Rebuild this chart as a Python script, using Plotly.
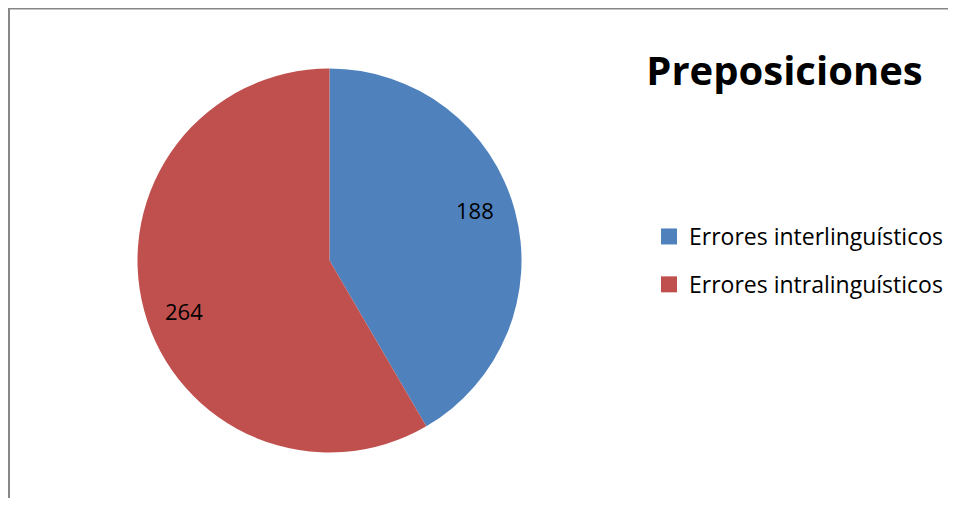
import math
import plotly.graph_objects as go

# ---- data ----
labels = ["Errores interlinguísticos", "Errores intralinguísticos"]
values = [188, 264]
colors = ["#4F81BD", "#C0504D"]
title_text = "Preposiciones"

# figure sized to fit inside the page's default 8px body margin
W, H = 940, 490
# pie geometry (pixels, figure coordinates)
cx, cy, R = 321.5, 252.5, 192
dom_x = [(cx - R) / W, (cx + R) / W]
dom_y = [1 - (cy + R) / H, 1 - (cy - R) / H]

fig = go.Figure()
fig.add_trace(go.Pie(
    labels=labels, values=values,
    marker=dict(colors=colors, line=dict(width=0)),
    sort=False, direction="clockwise", rotation=0,
    textinfo="none", hoverinfo="label+value",
    showlegend=False,
    domain=dict(x=dom_x, y=dom_y),
))

# legend entries (one per category)
for lab, col in zip(labels, colors):
    fig.add_trace(go.Scatter(
        x=[None], y=[None], mode="markers", name=lab,
        marker=dict(symbol="square", size=16, color=col),
        legendgroup=lab, showlegend=True,
    ))

# value labels placed from the data via slice mid-angles
total = sum(values)
cum = 0
label_r = 0.8 * R
angle_shift = -4
for v in values:
    mid = (cum + v / 2) / total * 360 + angle_shift
    cum += v
    a = math.radians(mid)
    px = cx + label_r * math.sin(a)
    py = cy - label_r * math.cos(a)
    fig.add_annotation(
        x=px / W, y=1 - py / H, xref="paper", yref="paper",
        text=str(v), showarrow=False,
        font=dict(family="Open Sans", size=22, color="#000000"),
        xanchor="center", yanchor="middle",
    )

# chart-area border (left and top edges visible), drawn as one open path
border = dict(color="#878787", width=2)
fig.add_shape(type="path", xref="paper", yref="paper",
              path=f"M {1 / W} 0 L {1 / W} {1 - 0.5 / H} L 1 {1 - 0.5 / H}",
              line=border)

fig.update_layout(
    width=W, height=H,
    margin=dict(l=0, r=0, t=0, b=0),
    paper_bgcolor="white", plot_bgcolor="white",
    xaxis=dict(visible=False, showline=False, zeroline=False, showgrid=False),
    yaxis=dict(visible=False, showline=False, zeroline=False, showgrid=False),
    title=dict(text="<b>" + title_text + "</b>", x=776.5 / W, xanchor="center",
               y=1 - 63 / H, yanchor="middle",
               font=dict(family="Open Sans", size=40, color="#000000")),
    legend=dict(x=641 / W, y=1 - 207 / H, xanchor="left", yanchor="top",
                font=dict(family="Open Sans", size=23, color="#000000"),
                tracegroupgap=15, bgcolor="rgba(0,0,0,0)"),
    font=dict(family="Open Sans"),
)

fig.write_html("out.html", config={"displayModeBar": False})
